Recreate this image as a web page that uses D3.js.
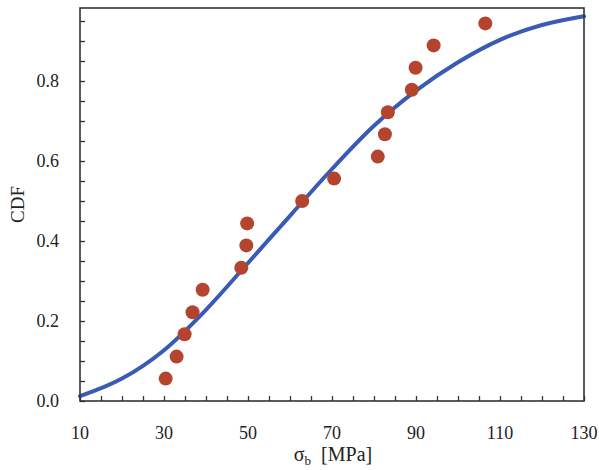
<!DOCTYPE html>
<html>
<head>
<meta charset="utf-8">
<script src="https://cdn.jsdelivr.net/npm/d3@7"></script>
<style>
  html, body { margin: 0; padding: 0; background: #fff; }
  svg { display: block; }
  text { font-family: "Times New Roman", "Liberation Serif", Times, serif; fill: #222; }
</style>
</head>
<body>
<svg id="chart" width="599" height="470"></svg>
<script>
// Measured strength samples (MPa) and their empirical CDF ranks
const strength = [30.4, 33.0, 34.9, 36.8, 39.2, 48.4, 49.6, 49.8, 62.9, 70.5,
                  80.9, 82.6, 83.3, 89.0, 89.9, 94.2, 106.5];
const empiricalCdf = [0.056, 0.111, 0.167, 0.222, 0.278, 0.333, 0.389, 0.444, 0.500,
                      0.556, 0.611, 0.667, 0.722, 0.778, 0.833, 0.889, 0.944];

// Fitted distribution curve, sampled along the stress axis
const fitStress = [10, 20, 30, 40, 50, 60, 70, 80, 90, 100, 110, 120, 130];
const fitCdf    = [0.012, 0.056, 0.127, 0.228, 0.345, 0.463, 0.580, 0.688, 0.776,
                   0.847, 0.903, 0.940, 0.962];

// Axis ticks
const xTickLabels = [10, 30, 50, 70, 90, 110, 130];
const yTickLabels = [0.0, 0.2, 0.4, 0.6, 0.8];

const svg = d3.select("#chart");
const margin = { left: 80, right: 15, top: 8, bottom: 69 };
const W = 599, H = 470;
const x0 = margin.left, x1 = W - margin.right;
const y0 = H - margin.bottom, y1 = margin.top;

const x = d3.scaleLinear().domain([10, 130]).range([x0, x1]);
const y = d3.scaleLinear().domain([0, 0.9825]).range([y0, y1]);

// Tick marks every 5 MPa / 0.05, pointing into the plot
const xMinor = d3.range(10, 130.01, 5);
const yMinor = d3.range(0, 0.9501, 0.05);

const axisColor = "#333";

svg.append("g")
  .attr("transform", `translate(0,${y0})`)
  .call(d3.axisBottom(x).tickValues(xMinor).tickSize(-5).tickFormat(""))
  .call(g => g.select(".domain").remove())
  .call(g => g.selectAll("line").attr("stroke", axisColor).attr("stroke-width", 1.3));

svg.append("g")
  .attr("transform", `translate(${x0},0)`)
  .call(d3.axisLeft(y).tickValues(yMinor).tickSize(-5).tickFormat(""))
  .call(g => g.select(".domain").remove())
  .call(g => g.selectAll("line").attr("stroke", axisColor).attr("stroke-width", 1.3));

// Tick labels
svg.append("g").selectAll("text")
  .data(xTickLabels)
  .join("text")
  .attr("x", d => x(d))
  .attr("y", y0 + 38)
  .attr("text-anchor", "middle")
  .attr("font-size", 18)
  .text(d => d);

svg.append("g").selectAll("text")
  .data(yTickLabels)
  .join("text")
  .attr("x", x0 - 21)
  .attr("y", d => y(d) + 6)
  .attr("text-anchor", "end")
  .attr("font-size", 18)
  .text(d => d.toFixed(1));

// Fitted CDF curve
const line = d3.line()
  .x((d, i) => x(fitStress[i]))
  .y(d => y(d))
  .curve(d3.curveMonotoneX);

svg.append("path")
  .datum(fitCdf)
  .attr("d", line)
  .attr("fill", "none")
  .attr("stroke", "#3a5bb4")
  .attr("stroke-width", 4)
  .attr("stroke-linecap", "round");

// Empirical points
svg.append("g").selectAll("circle")
  .data(strength)
  .join("circle")
  .attr("cx", d => x(d))
  .attr("cy", (d, i) => y(empiricalCdf[i]))
  .attr("r", 7)
  .attr("fill", "#b5442f");

// Plot frame
svg.append("rect")
  .attr("x", x0).attr("y", y1)
  .attr("width", x1 - x0).attr("height", y0 - y1)
  .attr("fill", "none")
  .attr("stroke", axisColor)
  .attr("stroke-width", 1.6);

// Axis titles
svg.append("text")
  .attr("transform", `translate(24,${(y0 + y1) / 2}) rotate(-90)`)
  .attr("text-anchor", "middle")
  .attr("font-size", 19)
  .text("CDF");

const xt = svg.append("text")
  .attr("x", (x0 + x1) / 2 + 1)
  .attr("y", H - 9)
  .attr("text-anchor", "middle")
  .attr("font-size", 20);
xt.append("tspan").text("σ");
xt.append("tspan").attr("font-size", 13).attr("dy", 4).text("b");
xt.append("tspan").attr("dy", -4).text("\u2002[MPa]");
</script>
</body>
</html>
